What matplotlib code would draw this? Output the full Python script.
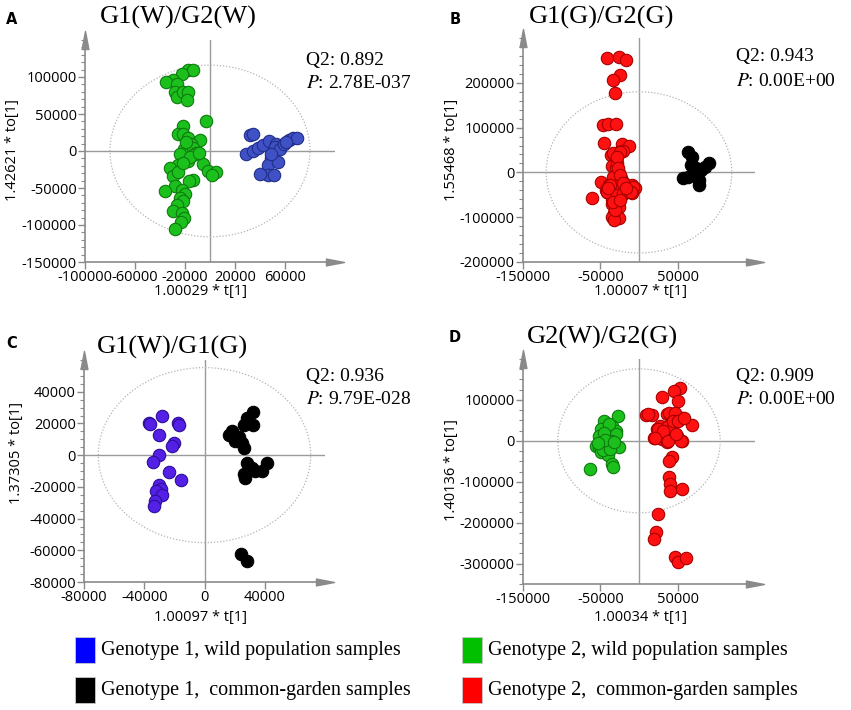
import numpy as np
import matplotlib.pyplot as plt
from matplotlib.patches import Ellipse, Rectangle
from matplotlib.path import Path

plt.rcParams['axes.unicode_minus'] = False
plt.rcParams['mathtext.fontset'] = 'stix'

# ---- data ----
a_green_x = [-17400, -13800, -22600, -29300, -35400, -26600, -28000, -26600, -21800, -17400, -18700, -3600,
             -21800, -25800, -21300, -17400, -8100, -15200, -20500, -13400, -11300, -13800, -24000, -17400,
             -5400, -1500, 4600, 1400, -25800, -32000, -29300, -13400, -16600, -27900, -35900, -22600,
             -20000, -24000, -21800, -26600, -29300, -22600, -20800, -23200, -27900,
             -19000, -16000, -9000, -26000, -22000]
a_green_y = [109000, 109000, 103600, 95400, 93200, 91000, 79500, 72700, 79500, 79500, 69000, 41000,
             34000, 23600, 22700, 18200, 14500, 10000, 2300, 4500, -2300, -5500, -3600, -13600,
             -18200, -27300, -28200, -32700, -19100, -22700, -34100, -39500, -40900, -47700, -54500, -52300,
             -58200, -63600, -68200, -73600, -80900, -84100, -90000, -96400, -105900,
             12000, -8000, -3000, -28000, -16000]
a_blue_x = [31700, 34300, 29000, 34300, 38300, 42300, 47000, 52900, 52300, 56300, 48900,
            46200, 54200, 46200, 39600, 51500, 59400, 63400, 66100, 69500, 60800, 48900]
a_blue_y = [21800, 23600, -4500, 0, 3600, 8200, 13600, 9100, 5500, 2300, -9100,
            -19100, -14500, -31800, -30900, -31800, 9100, 14500, 17300, 18200, 11800, -4500]

b_red_x = [-41100, -26100, -16700, -24000, -33000, -30800, -47100, -40700, -30000, -45000, -21400,
           -12800, -25700, -36400, -20600, -30000, -34300, -29100, -25700, -23600, -49300, -38500,
           -29100, -19300, -8600, -5100, -42800, -35100, -25700, -20600, -9400, -60400, -32500,
           -28300, -34700, -26100, -32500, -35500, -26100, -32500, -30400, -41100,
           -28000, -33000, -22000, -30000, -35000, -33400, -24800, -29000, -27000, -24800,
           -37700, -20500, -7700, -41900, -29000, -20500, -9800, -33400, -24800, -16200, -39900]
b_red_y = [255600, 258500, 251100, 218500, 205200, 177000, 105200, 107400, 108900, 65900, 63000,
           58500, 45900, 38500, 48100, 27400, 14100, 8900, -2200, -13300, -20700, -28100,
           -24400, -24400, -28100, -34000, -39300, -43000, -39300, -48900, -46700, -56300, -54100,
           -65200, -70400, -76300, -91100, -98500, -102200, -105900, -83700, -43000,
           20000, -10000, -35000, -30000, -60000, 42200, 45800, 34700, 8900, -6000,
           -28200, -24400, -32000, -43100, -50400, -46700, -43100, -65300, -61600, -35600, -35600]
b_black_x = [63000, 68500, 67200, 73600, 80000, 90800, 85700, 56500, 63000, 77100, 77100, 69400]
b_black_y = [45900, 34800, 16300, 8900, 5200, 20000, 11100, -13300, -9600, -17000, -28100, -5900]

c_blue_x = [-27900, -36700, -17400, -30100, -20200, -21800, -30500, -34100, -23500, -15800,
            -30500, -29000, -31900, -28400, -32700, -33800, -36000, -17000]
c_blue_y = [25000, 20200, 20200, 12900, 7700, 5600, 0, -4200, -10400, -15800,
            -18800, -21500, -22500, -25200, -28800, -31900, 19800, 19000]
c_black_x = [32100, 28100, 25900, 32500, 18200, 16000, 22600, 20400, 24800, 25900,
             28100, 31400, 41300, 38000, 33600, 25900, 27000, 24200, 28100]
c_black_y = [27100, 23300, 19200, 18800, 15400, 12500, 11300, 9200, 7700, 4200,
             -4800, -7900, -4800, -10000, -10000, -12100, -14200, -62100, -66700]

d_green_x = [-26600, -45000, -34300, -49300, -30000, -40700, -51400, -30000, -36400, -42800,
             -55700, -51400, -25700, -49300, -40700, -35100, -33400, -63400, -38500, -45000,
             -47000, -38000, -44000, -32000, -53000]
d_green_y = [61000, 48800, 36600, 28500, 24400, 16300, 12200, 16300, 0, -4100,
             -12200, -16300, -16300, -28500, -34100, -56900, -65000, -69100, 40700, 20300,
             -22000, -20000, 2000, -2000, -6000]
d_red_x = [53500, 45000, 50500, 30000, 8600, 17100, 36400, 42800, 55700, 68500, 47100, 27800,
           36400, 42800, 23600, 19300, 30000, 49300, 36400, 55700, 42800, 39400, 38500, 40700,
           55700, 40700, 24800, 21400, 19300, 47100, 50500, 61200,
           11600, 38600, 46900, 43700, 50100, 58700, 24400, 30800, 20200, 37300, 54500, 48100]
d_red_y = [130000, 122000, 97600, 107300, 63400, 63400, 65000, 56900, 55300, 39000, 48800, 36600,
           34100, 28500, 28500, 8100, 4100, 12200, -4100, 0, -40700, -48800, -89400, -105700,
           -117900, -122000, -178900, -223600, -239800, -284600, -296700, -286200,
           65300, 69200, 69200, 48900, 48900, 57000, 28600, 24400, 8100, 0, 0, 16300]

titles = ['G1(W)/G2(W)', 'G1(G)/G2(G)', 'G1(W)/G1(G)', 'G2(W)/G2(G)']
letters = ['A', 'B', 'C', 'D']
q2_vals = ['0.892', '0.943', '0.936', '0.909']
p_vals = ['2.78E-037', '0.00E+00', '9.79E-028', '0.00E+00']
x_labels = ['1.00029 * t[1]', '1.00007 * t[1]', '1.00097 * t[1]', '1.00034 * t[1]']
y_labels = ['1.42621 * to[1]', '1.55468 * to[1]', '1.37305 * to[1]', '1.40136 * to[1]']
legend_labels = ['Genotype 1, wild population samples', 'Genotype 2, wild population samples',
                 'Genotype 1,  common-garden samples', 'Genotype 2,  common-garden samples']

GREEN = ('#1cc01c', '#0e7a0e')
BLUE_A = ('#3f51c4', '#1f2f8a')
BLUE_C = ('#5520e6', '#2c0e9a')
RED = ('#ff1111', '#a80000')
BLACK = ('#000000', '#000000')

W, H = 851, 710
fig = plt.figure(figsize=(W / 100, H / 100), dpi=100)


def fx(x):
    return x / W


def fy(y):
    return 1 - y / H


arrow_r = Path([(-1, -0.38), (1, 0), (-1, 0.38), (-1, -0.38)], closed=True)
arrow_u = Path([(-0.38, -1), (0, 1), (0.38, -1), (-0.38, -1)], closed=True)
GRAY = '#8a8a8a'


def make_panel(box, xlim, ylim, xticks, yticks, yminor, ell):
    l, t, r, b = box
    ax = fig.add_axes([fx(l), fy(b), fx(r - l), (b - t) / H])
    ax.set_xlim(xlim)
    ax.set_ylim(ylim)
    for s in ['top', 'right']:
        ax.spines[s].set_visible(False)
    for s in ['left', 'bottom']:
        ax.spines[s].set_color(GRAY)
        ax.spines[s].set_linewidth(1.2)
    ax.axhline(0, color='#9a9a9a', lw=1, zorder=1)
    ax.axvline(0, color='#9a9a9a', lw=1, zorder=1)
    ax.add_patch(Ellipse((0, 0), 2 * ell[0], 2 * ell[1], fill=False, ls=(0, (1, 1.5)),
                         ec='#b4b4b4', lw=0.9, zorder=1))
    ax.set_xticks(xticks)
    ax.set_xticklabels([str(v) for v in xticks])
    ax.set_yticks(yticks)
    ax.set_yticklabels([str(v) for v in yticks])
    ax.set_yticks(np.arange(ylim[0], ylim[1] + 1, yminor), minor=True)
    ax.tick_params(which='major', length=5, color=GRAY, width=1, labelsize=10.5, pad=1,
                   labelfontfamily='Open Sans')
    ax.tick_params(which='minor', length=3, color=GRAY, width=0.8)
    ax.plot(1.0, 0, marker=arrow_r, ms=13, color=GRAY, transform=ax.transAxes, clip_on=False)
    ax.plot(0, 1.0, marker=arrow_u, ms=13, color=GRAY, transform=ax.transAxes, clip_on=False)
    return ax


def dots(ax, x, y, col):
    ax.scatter(x, y, s=80, c=col[0], edgecolors=col[1], linewidths=0.8, zorder=3)


ax_a = make_panel((85, 40, 335, 262), (-100000, 100000), (-150000, 150000),
                  [-100000, -60000, -20000, 20000, 60000],
                  [-150000, -100000, -50000, 0, 50000, 100000], 10000, (80000, 116000))
dots(ax_a, a_green_x, a_green_y, GREEN)
dots(ax_a, a_blue_x, a_blue_y, BLUE_A)

ax_b = make_panel((523, 38, 755, 262), (-150000, 150000), (-200000, 300000),
                  [-150000, -50000, 50000],
                  [-200000, -100000, 0, 100000, 200000], 20000, (120000, 180000))
dots(ax_b, b_red_x, b_red_y, RED)
dots(ax_b, b_black_x, b_black_y, BLACK)

ax_c = make_panel((84, 360, 325, 582), (-80000, 80000), (-80000, 60000),
                  [-80000, -40000, 0, 40000],
                  [-80000, -60000, -40000, -20000, 0, 20000, 40000], 5000, (70500, 55200))
dots(ax_c, c_blue_x, c_blue_y, BLUE_C)
dots(ax_c, c_black_x, c_black_y, BLACK)

ax_d = make_panel((523, 359, 755, 584), (-150000, 150000), (-350000, 200000),
                  [-150000, -50000, 50000],
                  [-300000, -200000, -100000, 0, 100000], 25000, (105000, 176000))
dots(ax_d, d_green_x, d_green_y, GREEN)
dots(ax_d, d_red_x, d_red_y, RED)

# panel texts (pixel positions)
letter_pos = [(12, 20), (455, 20), (12, 343), (455, 338)]
title_pos = [(178, 17), (602, 17), (172, 347), (602, 337)]
q2_pos = [(306, 60), (736, 57), (306, 377), (736, 377)]
p_pos = [(306, 83), (736, 82), (306, 400), (736, 400)]
xl_pos = [(200, 292), (640, 292), (200, 618), (640, 618)]
yl_pos = [(13, 150), (452, 150), (17, 453), (452, 470)]

for i in range(4):
    fig.text(fx(letter_pos[i][0]), fy(letter_pos[i][1]), letters[i], fontsize=10.5,
             fontweight='bold', family='DejaVu Sans', ha='center', va='center')
    fig.text(fx(title_pos[i][0]), fy(title_pos[i][1]), titles[i], fontsize=19,
             family='Liberation Serif', ha='center', va='center')
    fig.text(fx(q2_pos[i][0]), fy(q2_pos[i][1]), 'Q2: ' + q2_vals[i], fontsize=14,
             family='Liberation Serif', ha='left', va='center')
    fig.text(fx(p_pos[i][0]), fy(p_pos[i][1]), r'$P$: ' + p_vals[i], fontsize=14,
             family='Liberation Serif', ha='left', va='center')
    fig.text(fx(xl_pos[i][0]), fy(xl_pos[i][1]), x_labels[i], fontsize=10.5,
             family='Open Sans', ha='center', va='center')
    fig.text(fx(yl_pos[i][0]), fy(yl_pos[i][1]), y_labels[i], fontsize=10.5,
             family='Open Sans', ha='center', va='center', rotation=90)

# legend
leg_cols = ['#0000ff', '#00c000', '#000000', '#ff0000']
leg_box = [(75, 637), (462, 637), (75, 677), (462, 677)]
for i in range(4):
    bx, by = leg_box[i]
    fig.patches.append(Rectangle((fx(bx), fy(by + 26)), 20 / W, 26 / H, transform=fig.transFigure,
                                 facecolor=leg_cols[i], edgecolor='#c8c8c8', lw=0.6))
    fig.text(fx(bx + 26), fy(by + 14), legend_labels[i], fontsize=14.5,
             family='Liberation Serif', ha='left', va='center')

fig.savefig('out.png', dpi=100)
